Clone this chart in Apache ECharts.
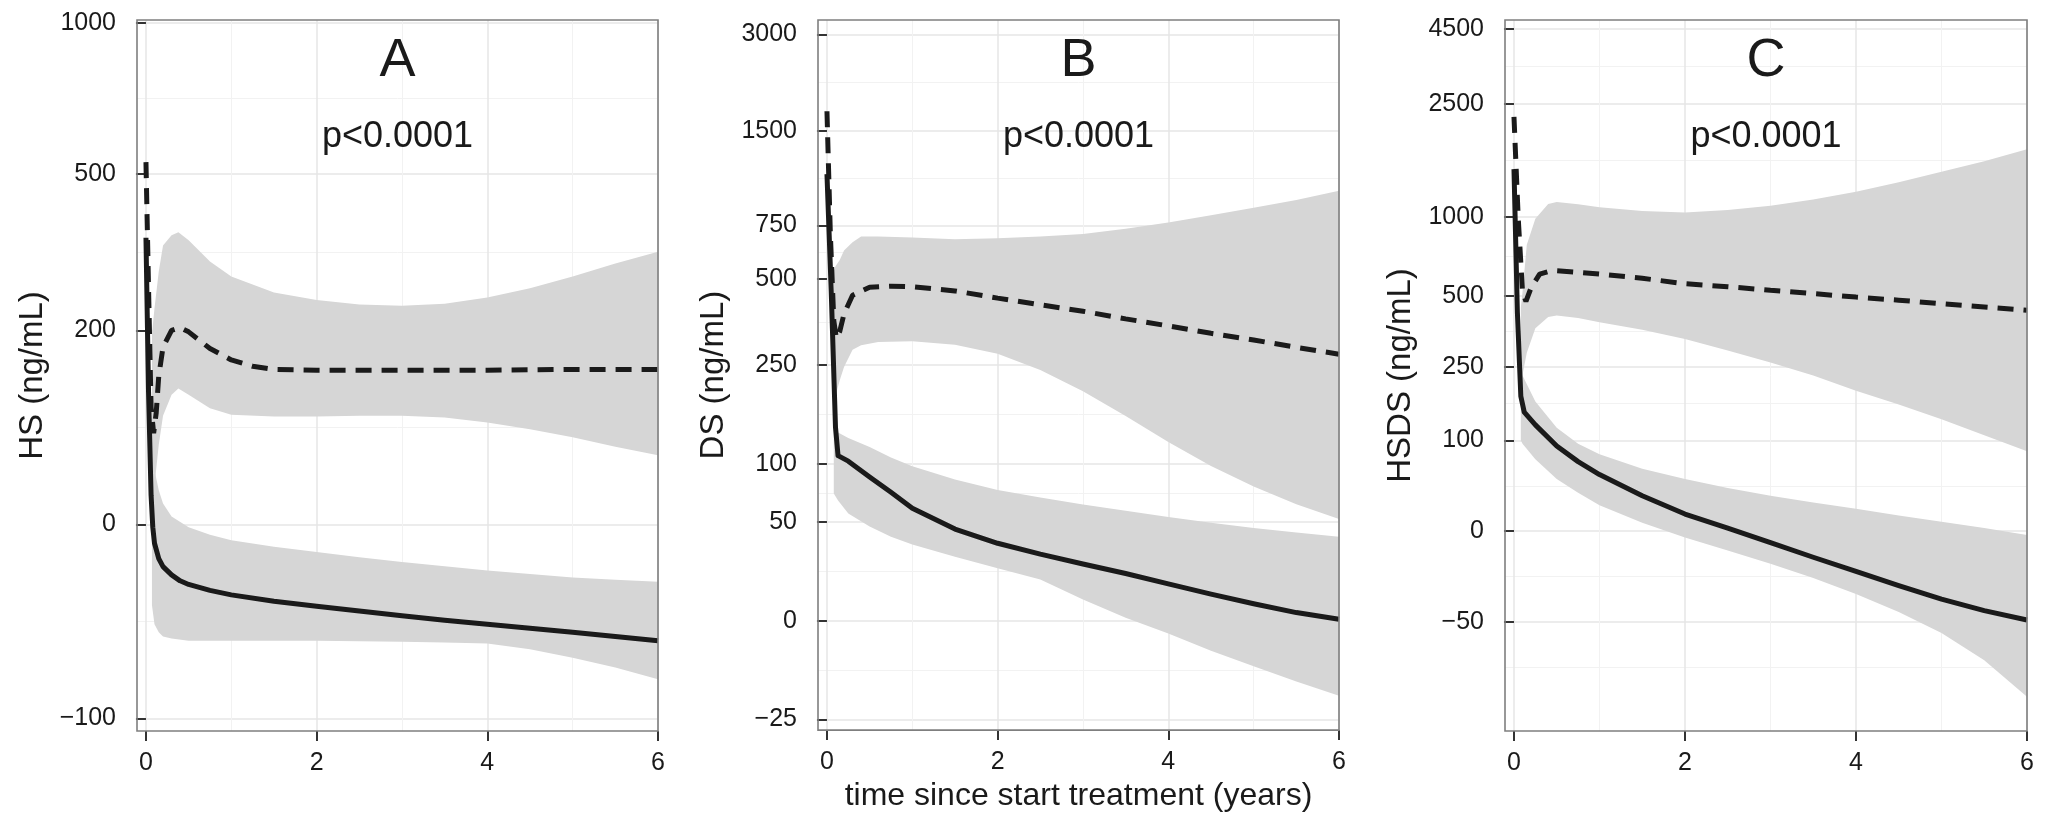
<!DOCTYPE html>
<html>
<head>
<meta charset="utf-8">
<script src="https://cdn.jsdelivr.net/npm/echarts@6/dist/echarts.min.js"></script>
<style>
html,body{margin:0;padding:0;background:#fff;}
#chart{width:2049px;height:817px;}
</style>
</head>
<body>
<div id="chart"></div>
<script>
// ---------- shared x axis ----------
const xTicks = [0, 2, 4, 6];
const xMinorTicks = [1, 3, 5];
const xLimits = [-0.105, 6];
const xTitle = 'time since start treatment (years)';

// ---------- Panel A : HS, y scale log(v + 200) ----------
const offA = 200;
const yTicksA = [-100, 0, 200, 500, 1000];
const yLimA = [-104.4, 1013];
const xSolidA = [0, 0.03, 0.06, 0.08, 0.1, 0.15, 0.2, 0.3, 0.4, 0.5, 0.75, 1, 1.5, 2, 2.5, 3, 3.5, 4, 4.5, 5, 5.5, 6];
const solidA  = [357, 122, 22, -2, -13, -23, -28, -33, -36.5, -38.6, -42, -44.5, -48, -50.7, -53.2, -55.7, -58, -60, -62, -64, -66, -68];
const xDashA  = [0, 0.03, 0.06, 0.09, 0.12, 0.15, 0.2, 0.3, 0.4, 0.5, 0.75, 1, 1.25, 1.5, 2, 3, 4, 5, 6];
const dashA   = [530, 267, 104, 77, 98, 140, 177, 200, 204, 198, 175, 160, 152, 148, 147, 147, 147, 148, 148];
const xBandUpA = [0.07, 0.1, 0.15, 0.2, 0.3, 0.38, 0.5, 0.75, 1, 1.5, 2, 2.5, 3, 3.5, 4, 4.5, 5, 5.5, 6];
const bandUpHiA = [195, 233, 294, 342, 362, 368, 352, 312, 285, 258, 246, 239, 237, 240, 250, 265, 285, 308, 330];
const bandUpLoA = [5, 30, 66, 95, 118, 125, 118, 103, 96, 94, 94, 95, 95, 93, 88, 81, 73, 64, 56];
const xBandLowA = [0.07, 0.1, 0.15, 0.2, 0.3, 0.5, 0.75, 1, 1.5, 2, 2.5, 3, 3.5, 4, 4.5, 5, 5.5, 6];
const bandLowHiA = [57, 43, 26, 15.5, 5.7, -2, -7.3, -11, -15.4, -18.8, -22.2, -25.1, -27.7, -30.3, -32.4, -34.6, -35.8, -37];
const bandLowLoA = [-50, -60, -64, -66, -67, -68, -68, -68, -68, -68, -68.2, -68.5, -68.8, -69.3, -72, -75.8, -80, -85];

// ---------- Panel B : DS, y scale log(v + 50) ----------
const offB = 50;
const yTicksB = [-25, 0, 50, 100, 250, 500, 750, 1500, 3000];
const yLimB = [-26.8, 3326];
const xSolidB = [0, 0.05, 0.1, 0.13, 0.25, 0.5, 0.75, 1, 1.5, 2, 2.5, 3, 3.5, 4, 4.5, 5, 5.5, 6];
const solidB  = [1096, 453, 144, 109, 103, 87, 73, 60, 45, 36, 29.7, 24.4, 19.6, 14.7, 10.2, 6.3, 2.9, 0.5];
const xDashB  = [0, 0.04, 0.08, 0.11, 0.15, 0.2, 0.3, 0.5, 0.75, 1, 1.5, 2, 2.5, 3, 3.5, 4, 4.5, 5, 5.5, 6];
const dashB   = [1730, 700, 360, 312, 330, 380, 440, 468, 472, 470, 455, 430, 408, 388, 365, 345, 325, 308, 290, 274];
const xBandUpB = [0.08, 0.1, 0.15, 0.2, 0.3, 0.4, 0.6, 1, 1.5, 2, 2.5, 3, 3.5, 4, 4.5, 5, 5.5, 6];
const bandUpHiB = [532, 550, 577, 620, 660, 689, 689, 684, 676, 680, 689, 703, 731, 766, 809, 854, 905, 970];
const bandUpLoB = [180, 192, 220, 246, 284, 295, 303, 305, 296, 275, 240, 200, 160, 125, 98, 78, 63, 52];
const xBandLowB = [0.08, 0.13, 0.25, 0.5, 0.75, 1, 1.5, 2, 2.5, 3, 3.5, 4, 4.5, 5, 5.5, 6];
const bandLowHiB = [150, 137, 130, 119, 107, 97.5, 84.6, 75, 68.6, 62.9, 58.1, 53.4, 49.3, 45.8, 42.7, 40];
const bandLowLoB = [72, 66, 56, 46.8, 40, 35.2, 28.3, 22.2, 16.7, 8, 1, -4.3, -9.5, -13.7, -17.4, -20.5];

// ---------- Panel C : HSDS, y scale log(v + 100) ----------
const offC = 100;
const yTicksC = [-50, 0, 100, 250, 500, 1000, 2500, 4500];
const yLimC = [-78.2, 4830];
const xSolidC = [0, 0.04, 0.08, 0.12, 0.25, 0.5, 0.75, 1, 1.5, 2, 2.5, 3, 3.5, 4, 4.5, 5, 5.5, 6];
const solidC  = [1481, 429, 180, 148, 125, 91.5, 70, 54, 31, 14, 2.4, -8.4, -18, -26.4, -34, -40.4, -45.4, -49.2];
const xDashC  = [0, 0.05, 0.1, 0.14, 0.2, 0.3, 0.45, 0.75, 1, 1.5, 2, 2.5, 3, 3.5, 4, 4.5, 5, 5.5, 6];
const dashC   = [2256, 983, 520, 477, 540, 610, 630, 620, 610, 588, 560, 545, 528, 512, 496, 482, 467, 453, 439];
const xBandUpC = [0.08, 0.1, 0.15, 0.25, 0.4, 0.5, 0.75, 1, 1.5, 2, 2.5, 3, 3.5, 4, 4.5, 5, 5.5, 6];
const bandUpHiC = [450, 520, 788, 983, 1111, 1130, 1110, 1082, 1050, 1036, 1059, 1097, 1155, 1232, 1332, 1450, 1579, 1740];
const bandUpLoC = [200, 230, 290, 370, 412, 418, 408, 392, 365, 333, 297, 262, 228, 192, 163, 135, 108, 84];
const xBandLowC = [0.08, 0.1, 0.25, 0.5, 0.75, 1, 1.5, 2, 2.5, 3, 3.5, 4, 4.5, 5, 5.5, 6];
const bandLowHiC = [260, 228, 169, 120, 95, 80, 61, 49, 39, 31, 24.5, 18.7, 12.7, 7.4, 2.4, -2.8];
const bandLowLoC = [100, 95, 73, 49, 34, 22, 6.6, -4.7, -13.7, -21.9, -30, -38, -46, -54, -62.6, -71.7];

const panelLetters = ['A', 'B', 'C'];
const pTexts = ['p<0.0001', 'p<0.0001', 'p<0.0001'];
const yTitles = ['HS (ng/mL)', 'DS (ng/mL)', 'HSDS (ng/mL)'];

// ---------- layout / style ----------
const gridBoxes = [
  {left: 137, top: 20, width: 521, height: 711},
  {left: 818, top: 20, width: 521, height: 711},
  {left: 1505, top: 20, width: 522, height: 711}
];
const FONT = '"Liberation Sans", Arial, Helvetica, sans-serif';
const LINE = '#1a1a1a';
const BAND = '#d6d6d6';

const panels = [
  {off: offA, ticks: yTicksA, lim: yLimA,
   solid: [xSolidA, solidA], dash: [xDashA, dashA],
   bands: [[xBandUpA, bandUpLoA, bandUpHiA], [xBandLowA, bandLowLoA, bandLowHiA]]},
  {off: offB, ticks: yTicksB, lim: yLimB,
   solid: [xSolidB, solidB], dash: [xDashB, dashB],
   bands: [[xBandUpB, bandUpLoB, bandUpHiB], [xBandLowB, bandLowLoB, bandLowHiB]]},
  {off: offC, ticks: yTicksC, lim: yLimC,
   solid: [xSolidC, solidC], dash: [xDashC, dashC],
   bands: [[xBandUpC, bandUpLoC, bandUpHiC], [xBandLowC, bandLowLoC, bandLowHiC]]}
];

function fmtNum(v) {
  const r = Math.round(v);
  return r < 0 ? '\u2212' + Math.abs(r) : String(r);
}

const grid = [], xAxis = [], yAxis = [], series = [], graphic = [];

panels.forEach(function (p, i) {
  const tf = function (v) { return Math.log(v + p.off); };
  const tTicks = p.ticks.map(tf);
  const tMin = tf(p.lim[0]), tMax = tf(p.lim[1]);
  const tMinor = [];
  for (let k = 0; k < tTicks.length - 1; k++) tMinor.push((tTicks[k] + tTicks[k + 1]) / 2);
  const eLo = tTicks[0] - (tTicks[1] - tTicks[0]) / 2;
  const n = tTicks.length;
  const eHi = tTicks[n - 1] + (tTicks[n - 1] - tTicks[n - 2]) / 2;
  if (eLo > tMin) tMinor.push(eLo);
  if (eHi < tMax) tMinor.push(eHi);

  const g = gridBoxes[i];
  grid.push({left: g.left, top: g.top, width: g.width, height: g.height,
    show: true, z: 5, backgroundColor: 'transparent',
    borderColor: '#7f7f7f', borderWidth: 1.6});

  xAxis.push({
    type: 'value', gridIndex: i, min: xLimits[0], max: xLimits[1], position: 'bottom',
    axisLine: {show: false},
    axisTick: {show: true, length: 10, customValues: xTicks, lineStyle: {color: '#333', width: 2}},
    axisLabel: {customValues: xTicks, fontSize: 25, color: '#1a1a1a', fontFamily: FONT, margin: 20,
      formatter: function (v) { return fmtNum(v); }},
    splitLine: {show: true, lineStyle: {color: '#e6e6e6', width: 1.5}},
    name: i === 1 ? xTitle : '', nameLocation: 'middle', nameGap: 48,
    nameTextStyle: {fontSize: 32, color: '#1a1a1a', fontFamily: FONT}
  });
  xAxis.push({
    type: 'value', gridIndex: i, min: xLimits[0], max: xLimits[1], position: 'bottom',
    axisLine: {show: false}, axisLabel: {show: false},
    axisTick: {show: false, customValues: xMinorTicks},
    splitLine: {show: true, lineStyle: {color: '#f2f2f2', width: 1}}
  });
  yAxis.push({
    type: 'value', gridIndex: i, min: tMin, max: tMax, position: 'left',
    axisLine: {show: false},
    axisTick: {show: true, length: 10, customValues: tTicks, lineStyle: {color: '#333', width: 2}},
    axisLabel: {customValues: tTicks, fontSize: 25, color: '#1a1a1a', fontFamily: FONT, margin: 21,
      formatter: function (t) { return fmtNum(Math.exp(t) - p.off); }},
    splitLine: {show: true, lineStyle: {color: '#e6e6e6', width: 1.5}},
    name: yTitles[i], nameLocation: 'middle', nameGap: 88, nameRotate: 90,
    nameTextStyle: {fontSize: 33, color: '#1a1a1a', fontFamily: FONT}
  });
  yAxis.push({
    type: 'value', gridIndex: i, min: tMin, max: tMax, position: 'left',
    axisLine: {show: false}, axisLabel: {show: false},
    axisTick: {show: false, customValues: tMinor},
    splitLine: {show: true, lineStyle: {color: '#f2f2f2', width: 1}}
  });

  p.bands.forEach(function (b) {
    const xs = b[0], lo = b[1], hi = b[2];
    const data = xs.map(function (x, k) { return [x, tf(lo[k]), tf(hi[k])]; });
    series.push({
      type: 'custom', xAxisIndex: 2 * i, yAxisIndex: 2 * i, silent: true, z: 1,
      data: data, encode: {x: 0, y: [1, 2]}, clip: true,
      renderItem: function (params, api) {
        if (params.dataIndex !== 0) return null;
        const top = data.map(function (d) { return api.coord([d[0], d[2]]); });
        const bot = data.map(function (d) { return api.coord([d[0], d[1]]); }).reverse();
        return {type: 'polygon', shape: {points: top.concat(bot)}, style: {fill: BAND}};
      }
    });
  });

  series.push({
    type: 'line', xAxisIndex: 2 * i, yAxisIndex: 2 * i, symbol: 'none', z: 3, silent: true,
    data: p.solid[0].map(function (x, k) { return [x, tf(p.solid[1][k])]; }),
    lineStyle: {color: LINE, width: 5, join: 'round'}
  });
  series.push({
    type: 'line', xAxisIndex: 2 * i, yAxisIndex: 2 * i, symbol: 'none', z: 3, silent: true,
    data: p.dash[0].map(function (x, k) { return [x, tf(p.dash[1][k])]; }),
    lineStyle: {color: LINE, width: 5, type: [16, 10], cap: 'butt'}
  });

  const cx = g.left + g.width / 2;
  graphic.push({type: 'text', x: cx, y: 61, z: 20, silent: true,
    style: {text: panelLetters[i], font: '54px ' + FONT, fill: '#1a1a1a', align: 'center', verticalAlign: 'middle'}});
  graphic.push({type: 'text', x: cx, y: 137, z: 20, silent: true,
    style: {text: pTexts[i], font: '36px ' + FONT, fill: '#1a1a1a', align: 'center', verticalAlign: 'middle'}});
});

const chart = echarts.init(document.getElementById('chart'), null, {renderer: 'canvas'});
chart.setOption({
  animation: false,
  backgroundColor: '#ffffff',
  textStyle: {fontFamily: FONT},
  grid: grid, xAxis: xAxis, yAxis: yAxis, series: series, graphic: graphic
});
</script>
</body>
</html>
